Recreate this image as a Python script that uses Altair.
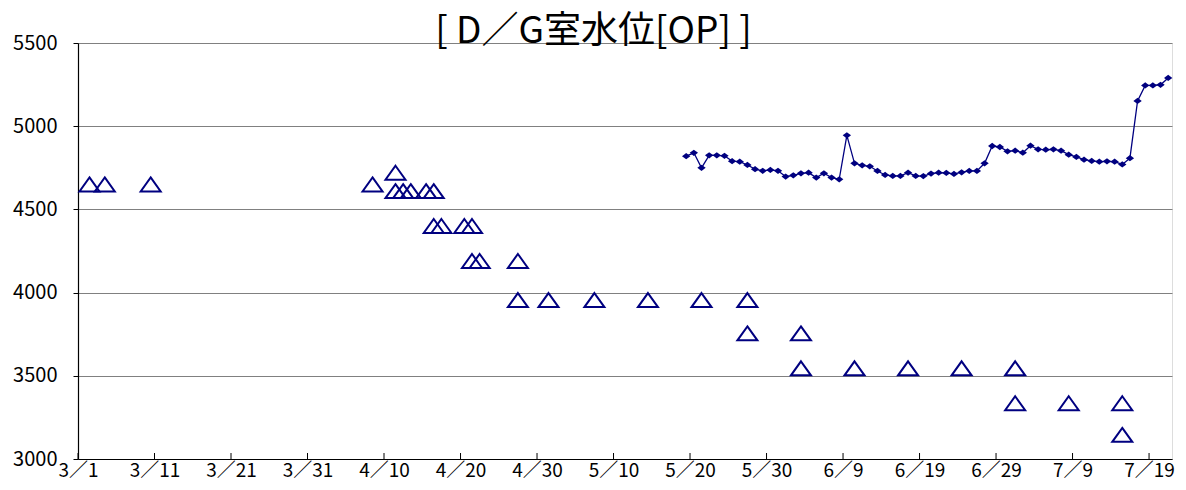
import altair as alt
import pandas as pd

# ---------------- data ----------------
YEAR = 2011
BASE = pd.Timestamp(f"{YEAR}-03-01")

# triangles (observed levels)
tri_dates = ["3/2", "3/4", "3/10", "4/8", "4/11", "4/11", "4/12", "4/13", "4/15",
             "4/16", "4/16", "4/17", "4/20", "4/21", "4/21", "4/22", "4/27", "4/27",
             "5/1", "5/7", "5/14", "5/21", "5/27", "5/27", "6/3", "6/3", "6/10",
             "6/17", "6/24", "7/1", "7/1", "7/8", "7/15", "7/15"]
tri_values = [4650, 4650, 4650, 4650, 4720, 4610, 4610, 4610, 4610,
              4610, 4400, 4400, 4400, 4400, 4190, 4190, 4190, 3955,
              3955, 3955, 3955, 3955, 3955, 3755, 3755, 3545, 3545,
              3545, 3545, 3545, 3335, 3335, 3335, 3145]

# daily line 5/19 .. 7/21
line_start = "5/19"
line_values = [4820, 4840, 4750, 4825, 4825, 4822, 4790, 4787, 4767, 4742, 4732, 4737, 4732,
               4697, 4705, 4717, 4721, 4691, 4717, 4691, 4681, 4945, 4777, 4765, 4759, 4731,
               4707, 4701, 4701, 4721, 4701, 4700, 4715, 4721, 4719, 4713, 4723, 4731, 4731,
               4777, 4881, 4875, 4849,
               4853, 4841, 4883, 4861, 4859, 4861, 4853, 4829, 4815, 4799, 4791, 4787, 4789,
               4787, 4770, 4808, 5152, 5245, 5245, 5249, 5290]

tick_days = list(range(0, 141, 10))          # 3/1, 3/11, ... 7/19
y_ticks = [3000, 3500, 4000, 4500, 5000, 5500]
title_text = "[ D／G室水位[OP] ]"


def to_ts(md):
    m, d = md.split("/")
    return pd.Timestamp(year=YEAR, month=int(m), day=int(d))


def day_pos(ts):
    # Excel date axis: points sit in the middle of each day slot
    return (ts - BASE).days + 0.5


tri_df = pd.DataFrame({"date": tri_dates, "value": tri_values})
tri_df["x"] = [day_pos(to_ts(d)) for d in tri_dates]

line_ts = pd.date_range(to_ts(line_start), periods=len(line_values), freq="D")
line_df = pd.DataFrame({"date": line_ts.strftime("%m/%d"), "value": line_values})
line_df["x"] = [day_pos(t) for t in line_ts]

tick_df = pd.DataFrame({"x": tick_days})

# ---------------- chart ----------------
NAVY = "#000080"
FONT = "Noto Sans CJK JP"
W, H = 1094, 416

xscale = alt.Scale(domain=[0, 143], nice=False, zero=False)
yscale = alt.Scale(domain=[3000, 5500], nice=False, zero=False)

xaxis = alt.Axis(values=tick_days, grid=False, ticks=False, domainColor="black",
                 domainWidth=1.2,
                 labelExpr=f"timeFormat(datetime({YEAR}, 2, 1 + datum.value), '%-m／%-d')",
                 labelFont=FONT, labelFontSize=19, labelColor="black", labelPadding=2,
                 labelFlush=False, labelOverlap=False, title=None)
yaxis = alt.Axis(values=y_ticks, format="d", grid=True, gridColor="#808080", gridWidth=1,
                 tickSize=5, tickColor="black", domainColor="black", domainWidth=1.2,
                 labelFont=FONT, labelFontSize=20, labelColor="black", labelPadding=16,
                 title=None)

tri = alt.Chart(tri_df).mark_point(
    shape="M0,-0.7L1,0.7L-1,0.7Z", size=400, filled=False, color=NAVY, strokeWidth=2,
    opacity=1
).encode(
    x=alt.X("x:Q", scale=xscale, axis=xaxis),
    y=alt.Y("value:Q", scale=yscale, axis=yaxis),
)

line = alt.Chart(line_df).mark_line(color=NAVY, strokeWidth=1.3).encode(
    x=alt.X("x:Q", scale=xscale),
    y=alt.Y("value:Q", scale=yscale),
)

dots = alt.Chart(line_df).mark_point(
    shape="M-1,0L0,-0.75L1,0L0,0.75Z", size=70, filled=True, color=NAVY, opacity=1
).encode(
    x=alt.X("x:Q", scale=xscale),
    y=alt.Y("value:Q", scale=yscale),
)

ticks = alt.Chart(tick_df).mark_rule(color="black", strokeWidth=1).encode(
    x=alt.X("x:Q", scale=xscale),
    y=alt.value(H - 6),
    y2=alt.value(H),
)

chart = alt.layer(ticks, tri, line, dots).properties(
    width=W, height=H,
    padding={"left": 4, "top": 5, "right": 0, "bottom": 0},
    title=alt.TitleParams(title_text, font=FONT, fontSize=37, fontWeight="normal",
                          color="black", anchor="middle", frame="bounds", offset=-18),
).configure_view(strokeWidth=0).configure(background="white")

chart.save("out.html", embed_options={"renderer": "svg", "actions": False})
